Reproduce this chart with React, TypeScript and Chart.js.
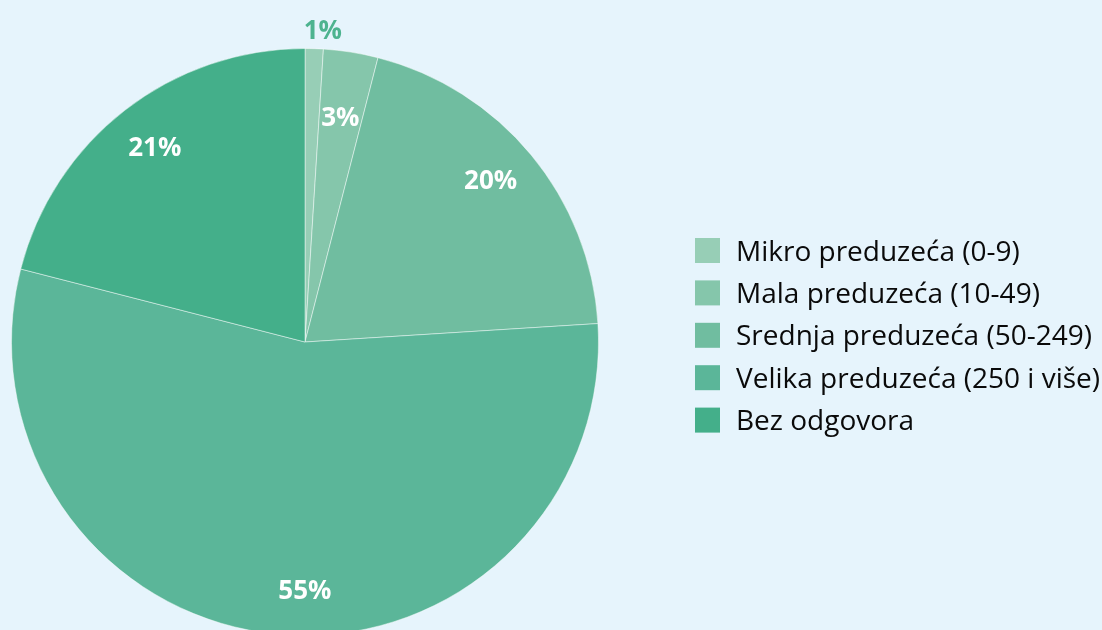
import React, { useEffect, useRef } from "react";
import { Chart, registerables } from "chart.js";

Chart.register(...registerables);

const categories = [
  "Mikro preduzeća (0-9)",
  "Mala preduzeća (10-49)",
  "Srednja preduzeća (50-249)",
  "Velika preduzeća (250 i više)",
  "Bez odgovora",
];
const values = [1, 3, 20, 55, 21];
const valueLabels = ["1%", "3%", "20%", "55%", "21%"];
const colors = ["#97CEB6", "#85C6AB", "#70BDA0", "#5BB699", "#44AF8A"];

// label placement (fraction of radius, angular shift in radians)
const labelRadius = [1.06, 0.77, 0.835, 0.85, 0.835];
const labelShift = [0.026, 0.0, -0.02, -0.094, 0.0];

const BG = "#E6F4FC";

const labelPlugin = {
  id: "pctLabels",
  afterDatasetsDraw(chart: any) {
    const ctx = chart.ctx;
    const meta = chart.getDatasetMeta(0);
    ctx.save();
    ctx.font = "bold 26px 'Open Sans'";
    ctx.textAlign = "center";
    ctx.textBaseline = "middle";
    meta.data.forEach((arc: any, i: number) => {
      const { x, y, startAngle, endAngle, outerRadius } = arc.getProps(
        ["x", "y", "startAngle", "endAngle", "outerRadius"],
        true
      );
      const mid = (startAngle + endAngle) / 2 + labelShift[i];
      const r = outerRadius * labelRadius[i];
      ctx.fillStyle = labelRadius[i] > 1 ? "#4DB38F" : "#FFFFFF";
      ctx.fillText(valueLabels[i], x + Math.cos(mid) * r, y + Math.sin(mid) * r);
    });
    ctx.restore();
  },
};

const legendPlugin = {
  id: "customLegend",
  afterDraw(chart: any) {
    const ctx = chart.ctx;
    ctx.save();
    const x0 = 695;
    const y0 = 250.5;
    const step = 42.4;
    ctx.font = "28px 'Open Sans'";
    ctx.textAlign = "left";
    ctx.textBaseline = "alphabetic";
    categories.forEach((c, i) => {
      const cy = y0 + i * step;
      ctx.fillStyle = colors[i];
      ctx.fillRect(x0, cy - 12.5, 25, 25);
      ctx.fillStyle = "#0A0A0A";
      ctx.fillText(c, x0 + 41, cy + 10);
    });
    ctx.restore();
  },
};

export default function App() {
  const ref = useRef<HTMLCanvasElement | null>(null);
  useEffect(() => {
    if (!ref.current) return;
    const chart = new Chart(ref.current, {
      type: "pie",
      data: {
        labels: categories,
        datasets: [
          {
            data: values,
            backgroundColor: colors,
            borderColor: "rgba(255,255,255,0.45)",
            borderWidth: 1,
            clip: false as any,
          },
        ],
      },
      options: {
        responsive: false,
        animation: false,
        layout: { padding: { left: 10, right: 502, top: 48, bottom: 4 } },
        plugins: {
          legend: { display: false },
          tooltip: { enabled: false },
        },
      },
      plugins: [labelPlugin, legendPlugin],
    });
    return () => chart.destroy();
  }, []);
  return (
    <div
      style={{
        position: "fixed",
        left: 0,
        top: 0,
        width: 1102,
        height: 630,
        background: BG,
        overflow: "hidden",
      }}
    >
      <canvas ref={ref} width={1102} height={640} style={{ display: "block" }} />
    </div>
  );
}
